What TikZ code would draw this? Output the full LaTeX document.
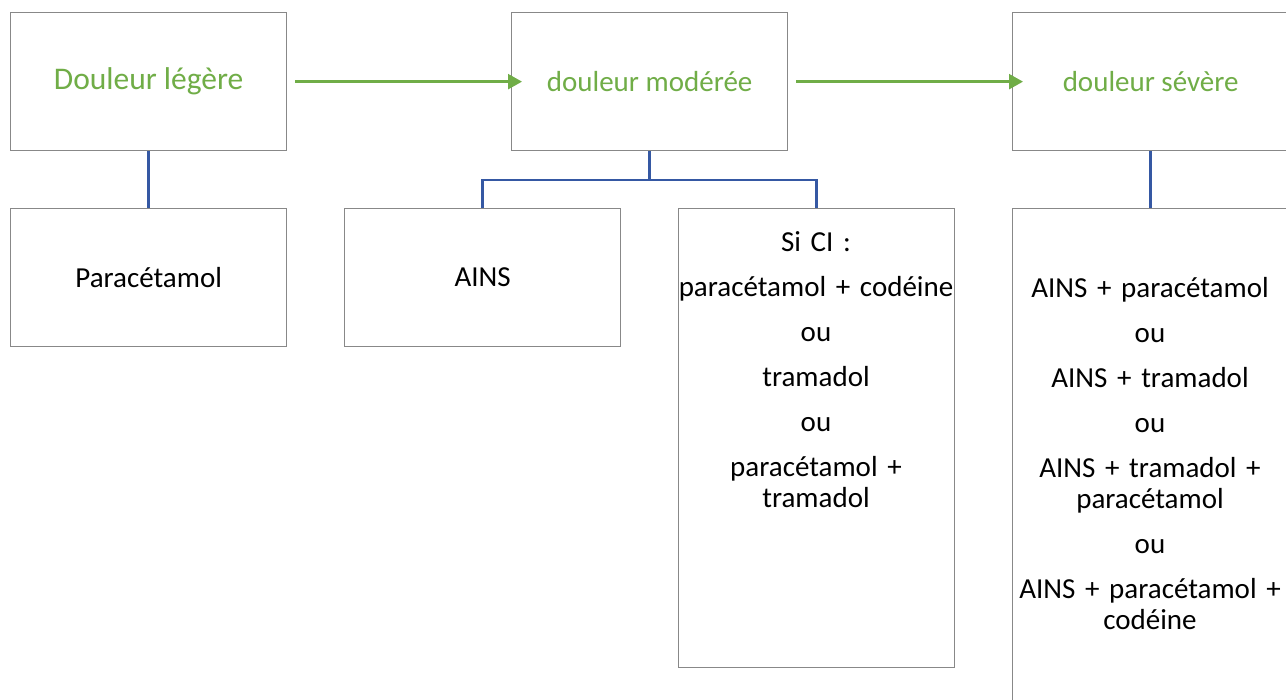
\documentclass[tikz,border=0pt]{standalone}
\usepackage{fontspec}
\setmainfont{Carlito}
\usetikzlibrary{arrows.meta}
\definecolor{grn}{HTML}{70AD47}
\definecolor{blu}{HTML}{3558A3}
\definecolor{bord}{HTML}{888888}
\begin{document}
\begin{tikzpicture}[x=1pt,y=-1pt,
  box/.style={draw=bord,line width=1.3pt,fill=white,minimum width=276pt,inner sep=0pt,anchor=north west,align=center},
  topbox/.style={box,minimum height=138pt,text=grn,font=\fontsize{29}{34}\selectfont},
  lowbox/.style={box,font=\fontsize{29}{31}\selectfont},
  txt/.style={inner sep=0pt,anchor=base,text width=300pt,align=center,font=\fontsize{29}{31}\selectfont},
  conn/.style={draw=blu,line width=2.4pt},
  arr/.style={draw=grn,line width=2.4pt,-{Triangle[length=14pt,width=15pt]}}]
\clip (0,0) rectangle (1286,700);
\fill[white] (0,0) rectangle (1286,700);
% top row
\node[topbox,font=\fontsize{31.5}{36}\selectfont] (leg) at (10,12) {Douleur légère};
\node[topbox] (mod) at (511,12) {douleur modérée};
\node[topbox,minimum width=282pt] (sev) at (1012,12) {douleur sévère\hspace*{6pt}};
% bottom row
\node[lowbox,minimum height=138pt] (para) at (10,208) {Paracétamol};
\node[lowbox,minimum height=138pt] (ains) at (344,208) {AINS};
\node[lowbox,minimum height=459pt] (sici) at (678,208) {};
\node[lowbox,minimum height=497pt,minimum width=282pt] (comb) at (1012,208) {};
% texts of tall boxes
\node[txt] (sicitxt) at (816,252) {Si CI :\\[14pt]
  paracétamol + codéine\\[14pt]
  ou\\[14pt]
  tramadol\\[14pt]
  ou\\[14pt]
  paracétamol +\\ tramadol};
\node[txt] (combtxt) at (1150,298) {AINS + paracétamol\\[14pt]
  ou\\[14pt]
  AINS + tramadol\\[14pt]
  ou\\[14pt]
  AINS + tramadol +\\ paracétamol\\[14pt]
  ou\\[14pt]
  AINS + paracétamol +\\ codéine};
% connectors
\draw[conn] (leg.south) -- (para.north);
\draw[conn] (mod.south) -- ++(0,29) -| (ains.north);
\draw[conn] (mod.south) -- ++(0,29) -| (sici.north);
\draw[conn] ([xshift=-3pt]sev.south) -- ([xshift=-3pt]comb.north);
% green arrows
\draw[arr] ([xshift=8pt]leg.east) -- ([xshift=11pt]mod.west);
\draw[arr] ([xshift=8pt]mod.east) -- ([xshift=11pt]sev.west);
\end{tikzpicture}
\end{document}
